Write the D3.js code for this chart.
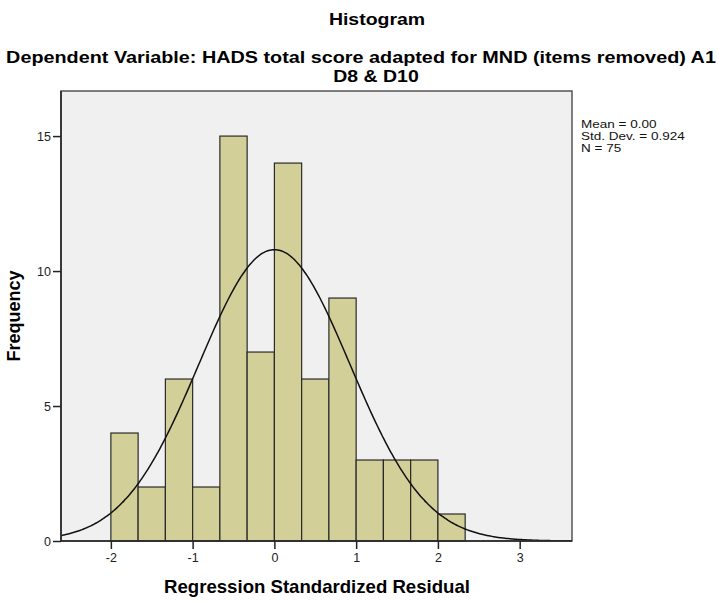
<!DOCTYPE html>
<html><head><meta charset="utf-8">
<script src="https://cdn.jsdelivr.net/npm/d3@7"></script>
<style>body{margin:0;background:#fff}svg{display:block;font-family:"Liberation Sans",Arial,sans-serif}</style>
</head><body>
<svg id="c" width="718" height="602"></svg>
<script>
const binStarts = [-2, -1.6667, -1.3333, -1, -0.6667, -0.3333, 0, 0.3333, 0.6667, 1, 1.3333, 1.6667, 2];
const binWidth = 1/3;
const counts = [4, 2, 6, 2, 15, 7, 14, 6, 9, 3, 3, 3, 1];
const xTicks = [-2, -1, 0, 1, 2, 3];
const yTicks = [0, 5, 10, 15];
const stats = {mean: 0.00, sd: 0.924, n: 75};
const legendLines = ["Mean = 0.00", "Std. Dev. = 0.924", "N = 75"];

const svg = d3.select("#c");
const L = 61, R = 572, T = 91, B = 541;
const x = d3.scaleLinear().domain([-2.61, 3.64]).range([L, R]);
const y = d3.scaleLinear().domain([0, 16.67]).range([B, T]);

function stretched(cx, cy, sx, size, txt, anchor) {
  return svg.append("text").attr("transform", `translate(${cx},${cy}) scale(${sx},1)`)
    .attr("text-anchor", anchor || "middle").attr("font-size", size).attr("font-weight", "bold").text(txt);
}
stretched(377, 25, 1.18, 16.5, "Histogram");
stretched(361, 63, 1.2, 16.5, "Dependent Variable: HADS total score adapted for MND (items removed) A1");
stretched(376, 82, 1.18, 16.5, "D8 & D10");

svg.append("rect").attr("x", L).attr("y", T).attr("width", R - L).attr("height", B - T)
  .attr("fill", "#f0f0f0");

svg.append("clipPath").attr("id", "clip").append("rect")
  .attr("x", L).attr("y", T).attr("width", R - L).attr("height", B - T);

svg.append("g").selectAll("rect").data(counts).join("rect")
  .attr("x", (d, i) => x(binStarts[i]))
  .attr("width", (d, i) => x(binStarts[i] + binWidth) - x(binStarts[i]))
  .attr("y", d => y(d)).attr("height", d => B - y(d))
  .attr("fill", "#d3cf98").attr("stroke", "#2a2a2a").attr("stroke-width", 1.2);

const pdf = v => stats.n * binWidth / (stats.sd * Math.sqrt(2 * Math.PI)) * Math.exp(-0.5 * ((v - stats.mean) / stats.sd) ** 2);
const xs = d3.range(-2.7, 3.7, 0.02);
svg.append("path").datum(xs).attr("clip-path", "url(#clip)")
  .attr("d", d3.line().x(v => x(v)).y(v => y(pdf(v))).curve(d3.curveBasis))
  .attr("fill", "none").attr("stroke", "#111").attr("stroke-width", 1.5);

svg.append("rect").attr("x", L).attr("y", T).attr("width", R - L).attr("height", B - T)
  .attr("fill", "none").attr("stroke", "#555").attr("stroke-width", 1.5);

const fmt = d => String(d);
const xa = svg.append("g").attr("transform", `translate(0,${B})`)
  .call(d3.axisBottom(x).tickValues(xTicks).tickSize(8).tickPadding(4).tickFormat(fmt));
const ya = svg.append("g").attr("transform", `translate(${L},0)`)
  .call(d3.axisLeft(y).tickValues(yTicks).tickSize(8).tickPadding(2).tickFormat(fmt));
[xa, ya].forEach(a => {
  a.select(".domain").remove();
  a.selectAll(".tick line").attr("stroke", "#222").attr("stroke-width", 1.5);
  a.selectAll(".tick text").attr("font-size", 12.5).attr("fill", "#222")
    .attr("font-family", "'Liberation Sans',Arial,sans-serif");
});
svg.append("line").attr("x1", L).attr("x2", R).attr("y1", B).attr("y2", B).attr("stroke", "#222").attr("stroke-width", 1.5);
svg.append("line").attr("x1", L).attr("x2", L).attr("y1", T).attr("y2", B).attr("stroke", "#222").attr("stroke-width", 1.5);

svg.append("text").attr("transform", "translate(20,316) rotate(-90)").attr("text-anchor", "middle")
  .attr("font-size", 18).attr("font-weight", "bold").text("Frequency");
svg.append("text").attr("x", 317).attr("y", 593).attr("text-anchor", "middle")
  .attr("font-size", 18.6).attr("font-weight", "bold").text("Regression Standardized Residual");

svg.append("g").selectAll("text").data(legendLines).join("text")
  .attr("transform", (d, i) => `translate(581,${128 + i * 12}) scale(1.3,1)`)
  .attr("font-size", 10.4).attr("fill", "#111").text(d => d);
</script>
</body></html>
